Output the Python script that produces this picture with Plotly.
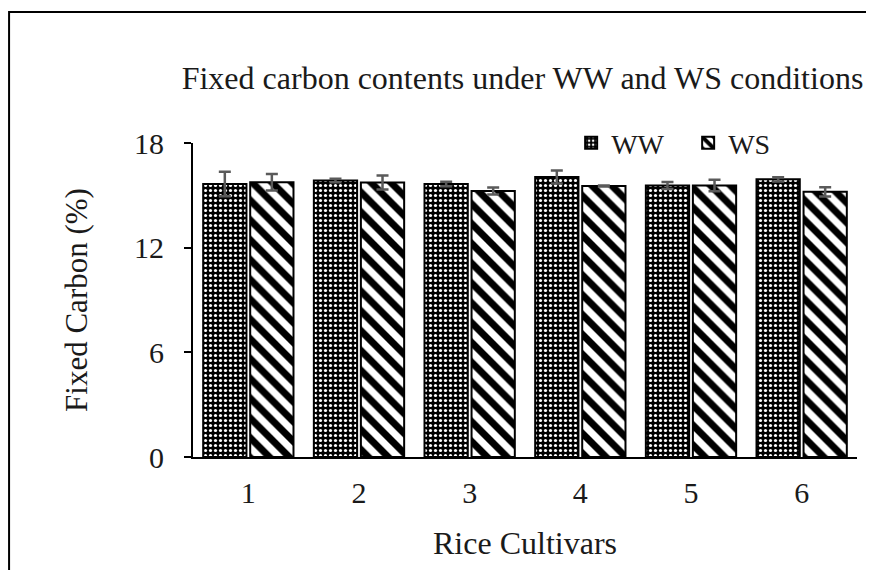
import plotly.graph_objects as go

# data
cultivars = ["1", "2", "3", "4", "5", "6"]
ww_values = [15.65, 15.85, 15.65, 16.05, 15.56, 15.92]
ww_errors = [0.70, 0.10, 0.13, 0.37, 0.20, 0.12]
ws_values = [15.75, 15.73, 15.25, 15.54, 15.56, 15.20]
ws_errors = [0.48, 0.40, 0.20, 0.03, 0.33, 0.27]
y_ticks = [0, 6, 12, 18]

FONT = "Liberation Serif, Times New Roman, serif"
ERR_COLOR = "#5a5a5a"
TEXT = "#1a1a1a"

fig = go.Figure()

fig.add_trace(
    go.Bar(
        x=cultivars,
        y=ww_values,
        name="WW",
        marker=dict(
            color="black",
            line=dict(color="black", width=2),
            pattern=dict(shape=".", fillmode="replace", fgcolor="white", fgopacity=1,
                         bgcolor="black", size=5, solidity=0.32),
        ),
        error_y=dict(type="data", array=ww_errors, color=ERR_COLOR, thickness=2.5, width=6),
    )
)
fig.add_trace(
    go.Bar(
        x=cultivars,
        y=ws_values,
        name="WS",
        marker=dict(
            color="white",
            line=dict(color="black", width=2),
            pattern=dict(shape="\\", fillmode="replace", fgcolor="black", fgopacity=1,
                         bgcolor="white", size=14, solidity=0.5),
        ),
        error_y=dict(type="data", array=ws_errors, color=ERR_COLOR, thickness=2.5, width=6),
    )
)

# outer frame of the picture
fig.add_shape(
    type="rect", xref="paper", yref="paper",
    x0=-0.277, x1=1.05, y0=-0.45, y1=1.417,
    line=dict(color="black", width=2), fillcolor="rgba(0,0,0,0)",
)

fig.update_layout(
    width=874,
    height=570,
    margin=dict(l=185, r=25, t=135, b=121),
    paper_bgcolor="white",
    plot_bgcolor="white",
    font=dict(family=FONT, size=30, color=TEXT),
    barmode="group",
    bargap=0.15,
    bargroupgap=0.08,
    title=dict(
        text="Fixed carbon contents under WW and WS conditions",
        font=dict(family=FONT, size=32, color=TEXT),
        x=514.5 / 874,
        xanchor="center",
        y=1 - 70 / 570,
        yanchor="middle",
    ),
    legend=dict(
        orientation="h",
        x=0.5695,
        xanchor="left",
        y=1.0,
        yanchor="middle",
        bgcolor="rgba(0,0,0,0)",
        font=dict(family=FONT, size=28, color=TEXT),
        itemwidth=30,
        entrywidth=72,
    ),
    showlegend=True,
)

fig.update_xaxes(
    showline=True,
    linecolor="black",
    linewidth=2,
    ticks="",
    showgrid=False,
    tickfont=dict(size=30),
    ticklabelstandoff=8,
    title=dict(text="Rice Cultivars", font=dict(size=32), standoff=24),
)
fig.update_yaxes(
    range=[0, 18],
    tickvals=y_ticks,
    showline=True,
    linecolor="black",
    linewidth=2,
    ticks="outside",
    ticklen=7,
    tickwidth=2,
    tickcolor="black",
    showgrid=False,
    zeroline=False,
    tickfont=dict(size=30),
    ticklabelstandoff=14,
    title=dict(text="Fixed Carbon (%)", font=dict(size=31), standoff=37),
)

fig.write_html("out.html")
